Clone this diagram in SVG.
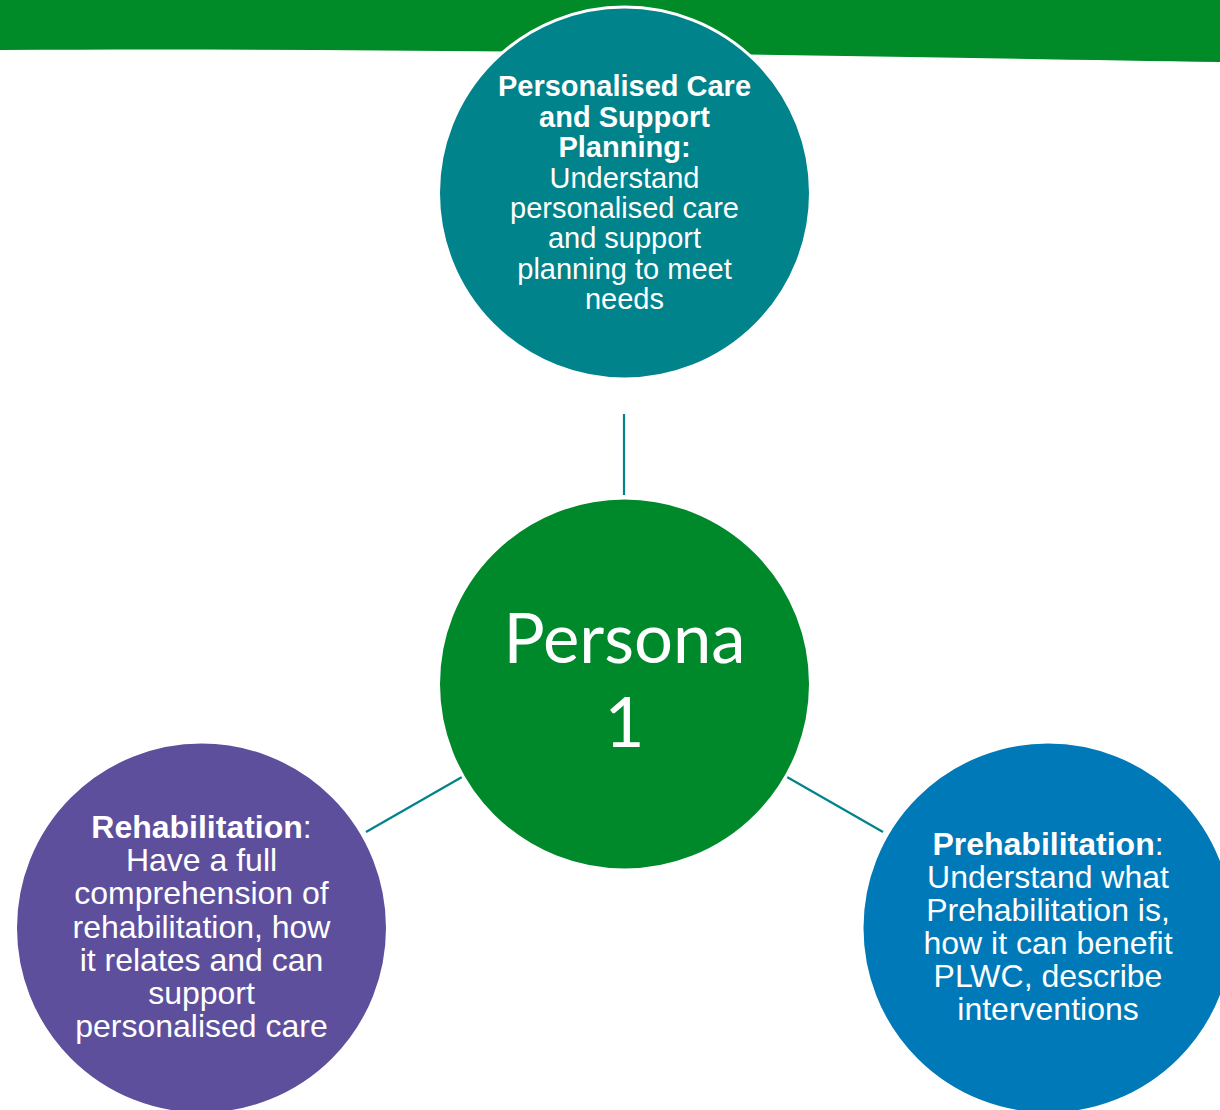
<svg xmlns="http://www.w3.org/2000/svg" width="1220" height="1110" viewBox="0 0 1220 1110">
<style>
.node circle{stroke:#ffffff;stroke-width:3}
.t{font-family:"Liberation Sans",Arial,sans-serif;fill:#ffffff;text-anchor:middle}
.s29{font-size:29px}
.s32{font-size:32px}
.b{font-weight:bold}
.conn line{stroke:#00838A;stroke-width:2.2}
.persona{font-family:Lato,"Open Sans",sans-serif;fill:#ffffff;text-anchor:middle;font-size:69px}
</style>
<rect width="1220" height="1110" fill="#ffffff"/>
<path id="band" d="M0,0 H1220 V62 C900,57 400,47 0,50 Z" fill="#008A28"/>
<g id="connectors" class="conn">
<line x1="624" y1="414" x2="624" y2="495"/>
<line x1="462" y1="777" x2="366" y2="832"/>
<line x1="787" y1="777" x2="883" y2="832"/>
</g>
<g id="node-top" class="node">
<circle cx="624.5" cy="193" r="186" fill="#00838A"/>
<text class="t s29 b" x="624.5" y="96">Personalised Care</text>
<text class="t s29 b" x="624.5" y="126.5">and Support</text>
<text class="t s29 b" x="624.5" y="157">Planning:</text>
<text class="t s29" x="624.5" y="187.5">Understand</text>
<text class="t s29" x="624.5" y="218">personalised care</text>
<text class="t s29" x="624.5" y="248">and support</text>
<text class="t s29" x="624.5" y="278.5">planning to meet</text>
<text class="t s29" x="624.5" y="309">needs</text>
</g>
<g id="node-center" class="node">
<circle cx="624.5" cy="684" r="186" fill="#00892A"/>
<text class="persona" x="624.5" y="663" textLength="242" lengthAdjust="spacingAndGlyphs">Persona</text>
<text class="persona" x="624.5" y="747">1</text>
</g>
<g id="node-left" class="node">
<circle cx="201.5" cy="928" r="186" fill="#5E4F9D"/>
<text class="t s32" x="201.5" y="838"><tspan class="b">Rehabilitation</tspan>:</text>
<text class="t s32" x="201.5" y="871">Have a full</text>
<text class="t s32" x="201.5" y="904">comprehension of</text>
<text class="t s32" x="201.5" y="937.5">rehabilitation, how</text>
<text class="t s32" x="201.5" y="970.5">it relates and can</text>
<text class="t s32" x="201.5" y="1003.5">support</text>
<text class="t s32" x="201.5" y="1036.5">personalised care</text>
</g>
<g id="node-right" class="node">
<circle cx="1048" cy="928" r="186" fill="#0079B8"/>
<text class="t s32" x="1048" y="855"><tspan class="b">Prehabilitation</tspan>:</text>
<text class="t s32" x="1048" y="888">Understand what</text>
<text class="t s32" x="1048" y="921">Prehabilitation is,</text>
<text class="t s32" x="1048" y="954">how it can benefit</text>
<text class="t s32" x="1048" y="987">PLWC, describe</text>
<text class="t s32" x="1048" y="1020">interventions</text>
</g>
</svg>
